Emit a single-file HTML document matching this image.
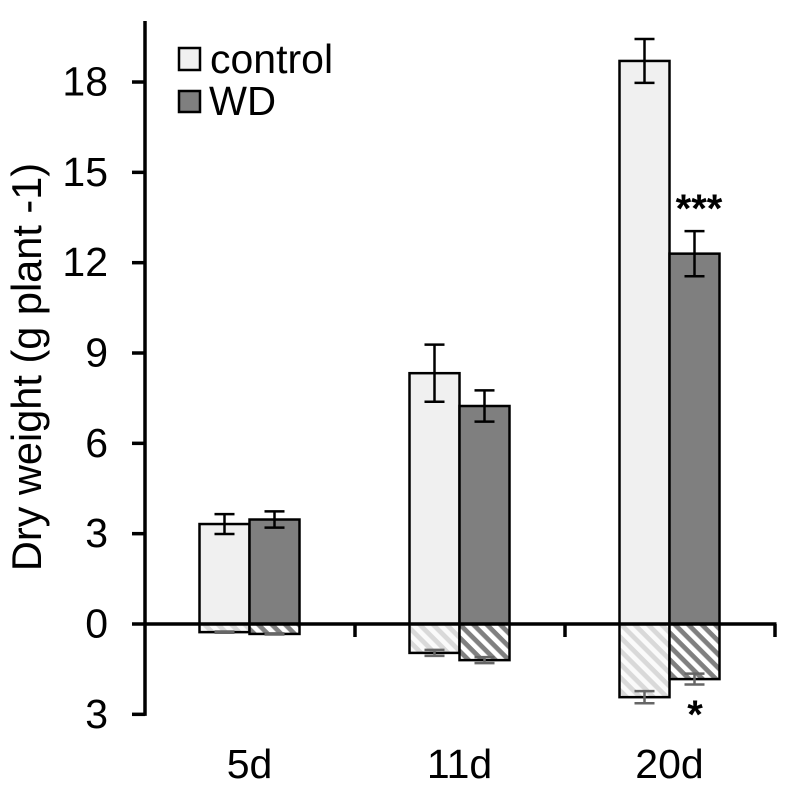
<!DOCTYPE html>
<html>
<head>
<meta charset="utf-8">
<style>
html,body{margin:0;padding:0;background:#fff}
svg{display:block}
text{font-family:"Liberation Sans",Arial,sans-serif;fill:#000}
</style>
</head>
<body>
<svg id="chart" width="790" height="793" viewBox="0 0 790 793" xmlns="http://www.w3.org/2000/svg">
<defs>
<pattern id="hatch-control" patternUnits="userSpaceOnUse" width="9.5" height="9.5" patternTransform="rotate(45)">
<rect width="9.5" height="9.5" fill="#fafafa"/><rect width="9.5" height="4.75" fill="#d9d9d9"/>
</pattern>
<pattern id="hatch-wd" patternUnits="userSpaceOnUse" width="9.5" height="9.5" patternTransform="rotate(45)">
<rect width="9.5" height="9.5" fill="#fff"/><rect width="9.5" height="4.75" fill="#808080"/>
</pattern>
</defs>
</svg>
<script>
const categories = ['5d', '11d', '20d'];
const controlShoot = [3.32, 8.33, 18.7];
const wdShoot = [3.47, 7.24, 12.3];
const controlShootErr = [0.33, 0.95, 0.73];
const wdShootErr = [0.27, 0.52, 0.75];
const controlRoot = [0.27, 0.96, 2.43];
const wdRoot = [0.33, 1.2, 1.83];
const controlRootErr = [0.02, 0.1, 0.2];
const wdRootErr = [0.02, 0.1, 0.18];
const yTicks = [0, 3, 6, 9, 12, 15, 18];
const yTickBelow = [3];

const svg = document.getElementById('chart');
const NS = 'http://www.w3.org/2000/svg';
const axisX = 145, zeroY = 624, unit = 30.11, catStep = 210, barW = 50, fontPx = 41;
const y = v => zeroY - v * unit;
const catCenter = i => axisX + catStep * (i + 0.5) - 0.5;

function make(tag, attrs, parent) {
  const el = document.createElementNS(NS, tag);
  for (const k in attrs) el.setAttribute(k, attrs[k]);
  (parent || svg).appendChild(el);
  return el;
}
function drawError(x, val, err, color, group) {
  const hw = 10;
  make('line', {x1: x, x2: x, y1: y(val + err), y2: y(val - err), stroke: color, 'stroke-width': 2.5}, group);
  make('line', {x1: x - hw, x2: x + hw, y1: y(val + err), y2: y(val + err), stroke: color, 'stroke-width': 2.5}, group);
  make('line', {x1: x - hw, x2: x + hw, y1: y(val - err), y2: y(val - err), stroke: color, 'stroke-width': 2.5}, group);
}

categories.forEach((cat, i) => {
  const cx = catCenter(i);
  const group = make('g', {});
  
  

  const bars = [
    {name: 'control', x: cx - barW, shoot: controlShoot[i], se: controlShootErr[i], root: controlRoot[i], re: controlRootErr[i], fill: '#f0f0f0', hatch: 'url(#hatch-control)'},
    {name: 'wd', x: cx, shoot: wdShoot[i], se: wdShootErr[i], root: wdRoot[i], re: wdRootErr[i], fill: '#7f7f7f', hatch: 'url(#hatch-wd)'}
  ];
  bars.forEach(b => {
    const top = make('rect', {x: b.x, y: y(b.shoot), width: barW, height: y(0) - y(b.shoot), fill: b.fill, stroke: '#000', 'stroke-width': 2.5}, group);
    
    
    const bottom = make('rect', {x: b.x, y: zeroY, width: barW, height: y(-b.root) - zeroY, fill: b.hatch, stroke: '#000', 'stroke-width': 2.5}, group);
    
    
    drawError(b.x + barW / 2, b.shoot, b.se, '#000', group);
    drawError(b.x + barW / 2, -b.root, b.re, '#666', group);
  });

  const lab = make('text', {x: cx, y: 778, 'font-size': fontPx, 'text-anchor': 'middle'});
  lab.textContent = cat;
  
  
});

const axes = make('g', {stroke: '#000', 'stroke-width': 3.5});


make('line', {x1: axisX, x2: axisX, y1: 21, y2: y(-3) + 1.5}, axes);
make('line', {x1: axisX, x2: axisX + catStep * categories.length + 1.5, y1: zeroY, y2: zeroY}, axes);
for (let i = 1; i <= categories.length; i++) {
  make('line', {x1: axisX + catStep * i, x2: axisX + catStep * i, y1: zeroY, y2: zeroY + 13}, axes);
}
function yTick(v, label) {
  make('line', {x1: axisX - 13, x2: axisX, y1: y(v), y2: y(v)}, axes);
  const t = make('text', {x: 108, y: y(v) + 13.5, 'font-size': fontPx, 'text-anchor': 'end'});
  t.textContent = label;
  
  
}
yTicks.forEach(v => yTick(v, String(v)));
yTickBelow.forEach(v => yTick(-v, String(v)));

const title = make('text', {x: 0, y: 0, 'font-size': 41.5, 'text-anchor': 'middle', transform: 'translate(41 367) rotate(-90)'});
title.textContent = 'Dry weight (g plant -1)';



const star1 = make('text', {x: 699, y: 222, 'font-size': 40, 'font-weight': 'bold', 'text-anchor': 'middle'});
star1.textContent = '***';


const star2 = make('text', {x: 695, y: 728, 'font-size': 40, 'font-weight': 'bold', 'text-anchor': 'middle'});
star2.textContent = '*';



const leg1 = make('rect', {x: 179, y: 48, width: 21, height: 22, fill: '#f0f0f0', stroke: '#000', 'stroke-width': 2.5});


const leg2 = make('rect', {x: 179, y: 91, width: 21, height: 21, fill: '#7f7f7f', stroke: '#000', 'stroke-width': 2.5});


const legT1 = make('text', {x: 210, y: 73, 'font-size': fontPx});
legT1.textContent = 'control';


const legT2 = make('text', {x: 209, y: 115, 'font-size': fontPx, textLength: 67, lengthAdjust: 'spacingAndGlyphs'});
legT2.textContent = 'WD';


</script>
</body>
</html>
